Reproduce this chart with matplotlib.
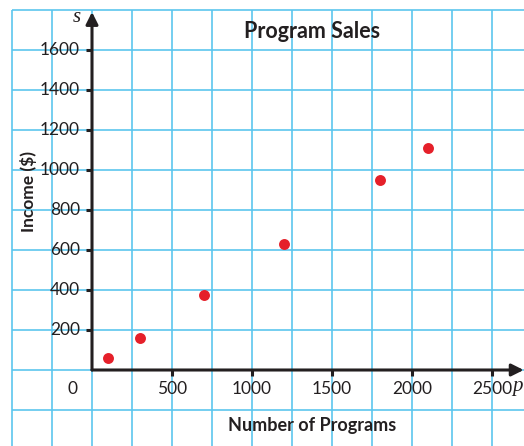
import matplotlib
matplotlib.use('Agg')
import matplotlib.pyplot as plt
import numpy as np

# program sales data
programs = [100, 300, 700, 1200, 1800, 2100]
income = [60, 160, 375, 630, 950, 1110]

x_ticks = [500, 1000, 1500, 2000, 2500]
y_ticks = [200, 400, 600, 800, 1000, 1200, 1400, 1600]

grid_x = np.arange(-500, 2501, 250)
grid_y = np.arange(-200, 1801, 200)

ink = '#231f20'
blue = '#5cc6ee'
red = '#e5202a'

plt.rcParams['font.family'] = ['Lato', 'DejaVu Sans']

fig = plt.figure(figsize=(5.24, 4.46), dpi=100)
ax = fig.add_axes([0, 0, 1, 1])
ax.set_xlim(-575, 2700)
ax.set_ylim(-380, 1850)
ax.axis('off')

# graph paper
ax.vlines(grid_x, -380, 1800, color=blue, lw=1.2, zorder=1)
ax.hlines(grid_y, -500, 2700, color=blue, lw=1.2, zorder=1)

# axes with arrows
ax.annotate('', xy=(0, 1790), xytext=(0, 0),
            arrowprops=dict(arrowstyle='-|>', lw=2.2, color=ink,
                            mutation_scale=18, shrinkA=0, shrinkB=0), zorder=3)
ax.annotate('', xy=(2698, 0), xytext=(0, 0),
            arrowprops=dict(arrowstyle='-|>', lw=2.2, color=ink,
                            mutation_scale=18, shrinkA=0, shrinkB=0), zorder=3)

# tick marks and labels
ax.hlines(y_ticks, -38, 0, color=ink, lw=2.2, zorder=3)
ax.vlines(x_ticks, -28, 0, color=ink, lw=2.2, zorder=3)
for v in y_ticks:
    ax.text(-75, v, str(v), ha='right', va='center', fontsize=12.5, color=ink, zorder=4)
for v in x_ticks:
    ax.text(v, -95, str(v), ha='center', va='center', fontsize=12.5, color=ink, zorder=4)
ax.text(-125, -95, '0', ha='center', va='center', fontsize=12.5, color=ink)

ax.text(-94, 1765, 's', ha='center', va='center', fontsize=15,
        family='Liberation Serif', style='italic', color=ink)
ax.text(2662, -82, 'p', ha='center', va='center', fontsize=15,
        family='Liberation Serif', style='italic', color=ink)

ax.text(1375, 1690, 'Program Sales', ha='center', va='center',
        fontsize=15.5, fontweight='bold', color=ink)
ax.text(1375, -275, 'Number of Programs', ha='center', va='center',
        fontsize=13, fontweight='bold', color=ink)
ax.text(-400, 890, 'Income ($)', ha='center', va='center', rotation=90,
        fontsize=12.5, fontweight='bold', color=ink)

ax.scatter(programs, income, s=62, color=red, zorder=5, linewidths=0)

fig.savefig('out.png', dpi=100)
